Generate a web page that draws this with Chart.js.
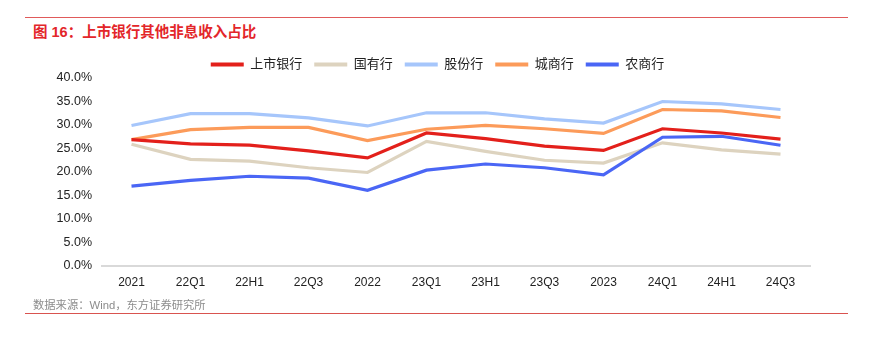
<!DOCTYPE html>
<html><head><meta charset="utf-8">
<script src="https://cdn.jsdelivr.net/npm/chart.js@4.4.0/dist/chart.umd.min.js"></script>
<style>
html,body{margin:0;padding:0;background:#fff;width:869px;height:337px;overflow:hidden;font-family:"Liberation Sans","Noto Sans CJK SC",sans-serif;}
#top{position:absolute;left:25px;top:17px;width:823px;height:0;border-top:1px solid #e05a5a;}
#title{position:absolute;left:33px;top:20px;font-size:14.5px;font-weight:bold;color:#e3262a;font-family:"Liberation Sans","Noto Sans CJK SC",sans-serif;white-space:nowrap;}
#src{position:absolute;left:33px;top:296px;font-size:11.3px;color:#8c8c8c;font-family:"Liberation Sans","Noto Sans CJK SC",sans-serif;white-space:nowrap;}
#bot{position:absolute;left:25px;top:313px;width:823px;height:0;border-top:1px solid #d9534f;}
#wrap{position:absolute;left:0;top:43px;width:869px;height:259px;}
</style></head>
<body>
<div id="top"></div>
<div id="title">图 16：上市银行其他非息收入占比</div>
<div id="wrap"><canvas id="c"></canvas></div>
<div id="src">数据来源：Wind，东方证券研究所</div>
<div id="bot"></div>
<script>
const categories = ["2021","22Q1","22H1","22Q3","2022","23Q1","23H1","23Q3","2023","24Q1","24H1","24Q3"];
const listedBanks = [26.9,26.0,25.7,24.5,23.0,28.3,27.1,25.5,24.6,29.2,28.3,27.0];
const stateOwned = [25.9,22.7,22.3,20.9,19.9,26.5,24.4,22.5,21.9,26.2,24.7,23.8];
const jointStock = [29.9,32.4,32.4,31.5,29.8,32.6,32.6,31.3,30.4,35.0,34.5,33.3];
const cityBanks = [26.9,29.0,29.5,29.5,26.7,29.1,29.9,29.2,28.2,33.3,33.0,31.6];
const ruralBanks = [17.0,18.2,19.1,18.7,16.1,20.4,21.7,20.9,19.4,27.4,27.6,25.7];
const seriesNames = ["上市银行","国有行","股份行","城商行","农商行"];
const yTicks = [0,5,10,15,20,25,30,35,40];

const colors = ["#e3201b","#ddd3bf","#a6c6fb","#fc9b5a","#4a66f5"];
const dataArr = [listedBanks,stateOwned,jointStock,cityBanks,ruralBanks];
const datasets = seriesNames.map((n,i)=>({
  label:n, data:dataArr[i], borderColor:colors[i], backgroundColor:colors[i],
  borderWidth:3.2, pointRadius:0, tension:0, fill:false
}));
datasets.forEach((d,i)=>{ d.order = [0,4,3,2,1][i]; });

const legendShift = {
  id:'legendShift',
  afterLayout(chart){
    const lg = chart.legend;
    if(!lg) return;
    const w = lg.right - lg.left;
    lg.left = 0; lg.right = chart.width + 6; lg.width = lg.right - lg.left;
    lg.top += 3; lg.bottom += 3;
  }
};

new Chart(document.getElementById('c'),{
  type:'line',
  data:{labels:categories,datasets},
  plugins:[legendShift],
  options:{
    responsive:true, maintainAspectRatio:false, animation:false,
    layout:{padding:{left:0,right:59,top:0,bottom:0}},
    plugins:{
      tooltip:{enabled:false},
      legend:{
        position:'top',
        labels:{
          font:{size:13,family:'"Liberation Sans","Noto Sans CJK SC",sans-serif'},
          color:'#222',
          boxWidth:33, boxHeight:4, padding:12,
          generateLabels:(chart)=>{
            const items = Chart.defaults.plugins.legend.labels.generateLabels(chart);
            items.forEach(it=>{it.lineWidth=0;});
            items.sort((a,b)=>a.datasetIndex-b.datasetIndex);
            return items;
          }
        }
      }
    },
    scales:{
      x:{
        offset:true,
        grid:{display:false,drawTicks:false},
        border:{display:true,color:'#d9d9d9',width:2},
        ticks:{color:'#222',font:{size:12,family:'"Liberation Sans",sans-serif'},padding:9,maxRotation:0,autoSkip:false},
        afterFit:(s)=>{s.height=36;}
      },
      y:{
        min:0,max:40,
        afterBuildTicks:(s)=>{s.ticks=yTicks.map(v=>({value:v}));},
        grid:{display:false,drawTicks:false},
        border:{display:false},
        ticks:{color:'#222',font:{size:12.5,family:'"Liberation Sans",sans-serif'},padding:10,
          callback:(v)=>v.toFixed(1)+'%'},
        afterFit:(s)=>{s.width=102;}
      }
    }
  }
});
</script>
</body></html>
